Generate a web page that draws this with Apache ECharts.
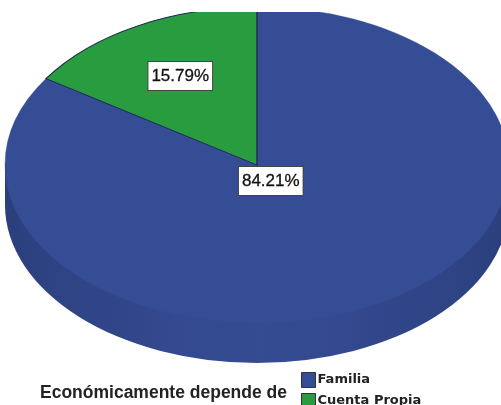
<!DOCTYPE html>
<html><head><meta charset="utf-8">
<style>html,body{margin:0;padding:0;background:#fff;overflow:hidden}#c{width:501px;height:405px;overflow:hidden;filter:blur(0.5px)}</style>
<script src="https://cdn.jsdelivr.net/npm/echarts@6/dist/echarts.min.js"></script>
</head><body><div id="c"></div>
<script>
const categories = ['Familia', 'Cuenta Propia'];
const percentages = [84.21, 15.79];
const colors = ['#354d95', '#2a9c40'];
const legendTitle = 'Económicamente depende de';

const CX = 257, CY = 165, RX = 252, RY = 158, DEPTH = 40, CLIP_TOP = 12;
const labelFrac = [0.115, 0.64];
const total = percentages.reduce((a, b) => a + b, 0);
const chart = echarts.init(document.getElementById('c'), null, {renderer: 'canvas'});

function angles(i) {
  let start = 0;
  for (let k = 0; k < i; k++) start += percentages[k] / total * 2 * Math.PI;
  return [start, start + percentages[i] / total * 2 * Math.PI];
}
const sideGradient = new echarts.graphic.LinearGradient(0, 0, 1, 0, [
  {offset: 0, color: '#2b3f7c'}, {offset: 0.1, color: '#2e4383'}, {offset: 0.35, color: '#34498f'}, {offset: 0.5, color: '#354b92'},
  {offset: 0.65, color: '#34498f'}, {offset: 0.9, color: '#2e4383'}, {offset: 1, color: '#2b3f7c'}
]);

function renderSlice(params, api) {
  const i = params.seriesIndex;
  const [a0, a1] = angles(i);
  const children = [];
  if (i === 0) {
    children.push({type: 'rect', shape: {x: CX - RX, y: CY, width: 2 * RX, height: DEPTH}, style: {fill: sideGradient}, silent: true});
    children.push({type: 'circle', shape: {cx: 0, cy: 0, r: RX}, x: CX, y: CY + DEPTH, scaleY: RY / RX, style: {fill: sideGradient}, silent: true});
  }
  const isGreen = i === 1;
  children.push({
    type: 'sector', x: CX, y: CY, scaleY: RY / RX,
    shape: {cx: 0, cy: 0, r0: 0, r: RX, startAngle: a0 - Math.PI / 2, endAngle: a1 - Math.PI / 2, clockwise: true},
    style: {fill: colors[i], stroke: isGreen ? '#1d2a55' : colors[i], lineWidth: isGreen ? 1.4 : 0.5, strokeNoScale: true}
  });
  const mid = (a0 + a1) / 2;
  children.push({
    type: 'text', z2: 10,
    x: CX + Math.sin(mid) * RX * labelFrac[i],
    y: CY - Math.cos(mid) * RY * labelFrac[i],
    style: {
      text: api.value(0).toFixed(2) + '%', fill: '#111', align: 'center', verticalAlign: 'middle',
      font: '17px "Liberation Sans", Arial, sans-serif',
      stroke: '#111', lineWidth: 0.3,
      backgroundColor: '#fff', borderColor: '#444', borderWidth: 1, padding: [6, 3, 5, 3]
    }
  });
  return {type: 'group', children};
}

chart.setOption({
  animation: false,
  backgroundColor: '#fff',
  color: colors,
  legend: {
    data: categories, orient: 'vertical', left: 301, top: 372, height: 60, padding: 0, itemWidth: 14, itemHeight: 15, itemGap: 5,
    icon: 'rect', selectedMode: false,
    itemStyle: {borderColor: '#333', borderWidth: 1},
    textStyle: {fontFamily: '"DejaVu Sans", sans-serif', fontSize: 13, fontWeight: 'bold', color: '#222', padding: [4, 0, 0, -3]}
  },
  title: {
    text: legendTitle, left: 40, top: 384, padding: 0,
    textStyle: {fontFamily: '"Liberation Sans", Arial, sans-serif', fontSize: 17.5, fontWeight: 'bold', color: '#222'}
  },
  series: categories.map((name, i) => ({
    type: 'custom', name, coordinateSystem: 'none', clip: false,
    z: i === 0 ? 2 : 3,
    data: [[percentages[i]]],
    itemStyle: {color: colors[i]},
    renderItem: renderSlice
  })),
  graphic: [{type: 'rect', z: 50, shape: {x: 0, y: 0, width: 501, height: CLIP_TOP}, style: {fill: '#fff'}, silent: true}]
});
</script></body></html>
